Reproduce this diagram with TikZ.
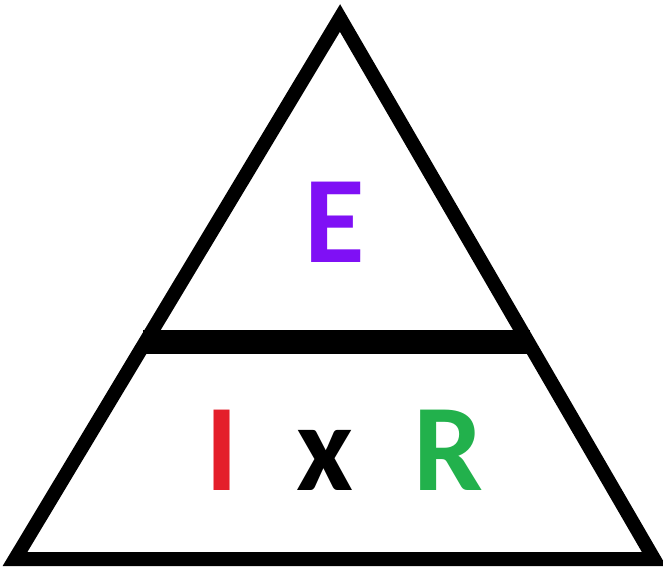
\documentclass[tikz,border=0pt]{standalone}
\usepackage{fontspec}
\setmainfont{Carlito}
\definecolor{epurple}{HTML}{7F10F5}
\definecolor{ired}{HTML}{E41E2A}
\definecolor{rgreen}{HTML}{22B14C}
\begin{document}
\begin{tikzpicture}[x=1pt,y=-1pt,
  edge/.style={line width=14pt,line join=miter,black},
  barline/.style={line width=24pt,black},
  lbl/.style={anchor=base,inner sep=0pt,font=\fontsize{124}{124}\selectfont\bfseries}]
\useasboundingbox[fill=white] (0,0) rectangle (663,576);
\coordinate (top) at (340,18);
\coordinate (bl) at (15,559);
\coordinate (br) at (654,559);
\draw[edge] (top) -- (bl) -- (br) -- cycle;
\coordinate (barl) at (143,342);
\coordinate (barr) at (530,342);
\draw[barline] (barl) -- (barr);
\node[lbl,text=epurple] (E) at (335,262) {E};
\node[lbl,text=ired] (I) at (222,490) {I};
\node[lbl,text=black] (X) at (325,490) {x};
\node[lbl,text=rgreen] (R) at (448,490) {R};
\end{tikzpicture}
\end{document}
